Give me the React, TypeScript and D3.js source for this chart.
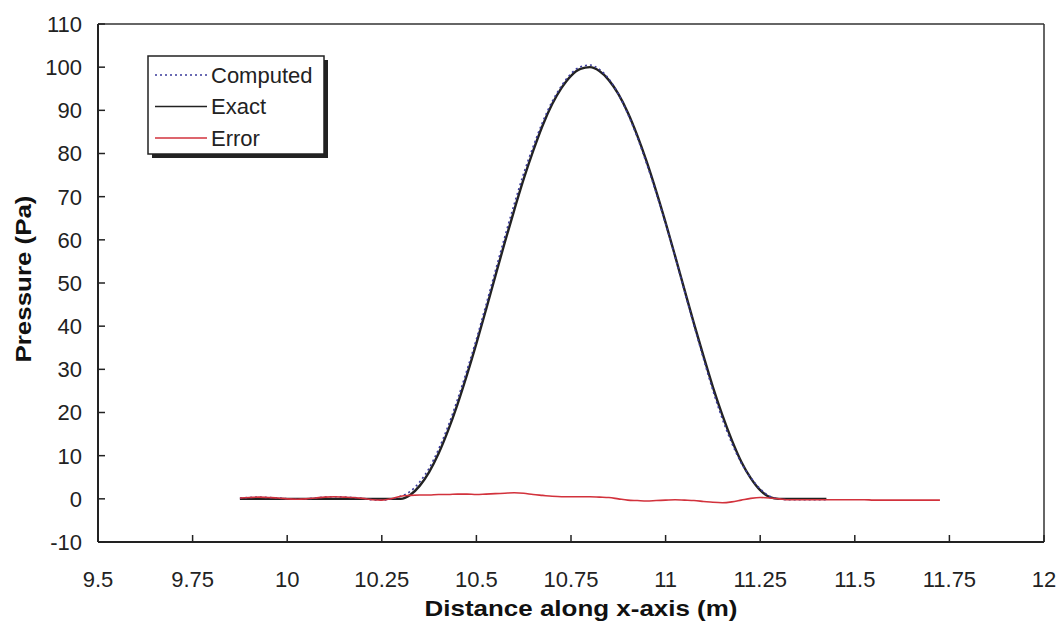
import React from "react";
import * as d3 from "d3";

const xValues = [
  9.875, 9.9, 9.925, 9.95, 9.975, 10.0, 10.025, 10.05, 10.075, 10.1,
  10.125, 10.15, 10.175, 10.2, 10.225, 10.25, 10.275, 10.3, 10.325, 10.35,
  10.375, 10.4, 10.425, 10.45, 10.475, 10.5, 10.525, 10.55, 10.575, 10.6,
  10.625, 10.65, 10.675, 10.7, 10.725, 10.75, 10.775, 10.8, 10.825, 10.85,
  10.875, 10.9, 10.925, 10.95, 10.975, 11.0, 11.025, 11.05, 11.075, 11.1,
  11.125, 11.15, 11.175, 11.2, 11.225, 11.25, 11.275, 11.3, 11.325, 11.35,
  11.375, 11.4, 11.425, 11.45, 11.475, 11.5, 11.525, 11.55, 11.575, 11.6,
  11.625, 11.65, 11.675, 11.7, 11.725,
];

const exactValues = [
  0, 0, 0, 0, 0, 0, 0, 0, 0, 0,
  0, 0, 0, 0, 0, 0, 0, 0, 0.9, 3.0,
  6.2, 10.5, 15.8, 21.9, 28.7, 36.0, 43.7, 51.6, 59.4, 66.9,
  74.1, 80.6, 86.5, 91.4, 95.2, 98.0, 99.6, 100.0, 99.1, 97.0,
  93.8, 89.5, 84.2, 78.1, 71.3, 64.0, 56.3, 48.4, 40.6, 33.1,
  25.9, 19.4, 13.6, 8.6, 4.8, 2.0, 0.4, 0, 0, 0,
  0, 0, 0,
];

const computedValues = [
  0.2, 0.3, 0.4, 0.3, 0.2, 0.0, -0.1, 0.0, 0.2, 0.4,
  0.5, 0.4, 0.3, 0.1, -0.2, -0.3, 0.0, 0.6, 1.7, 3.9,
  7.1, 11.5, 16.8, 23.0, 29.8, 37.0, 44.8, 52.8, 60.7, 68.3,
  75.4, 81.6, 87.3, 92.0, 95.7, 98.5, 100.1, 100.5, 99.5, 97.3,
  93.8, 89.2, 83.8, 77.6, 70.9, 63.7, 56.1, 48.1, 40.2, 32.5,
  25.1, 18.5, 12.9, 8.3, 4.9, 2.3, 0.6, 0.0, -0.2, -0.2,
  -0.2, -0.2, -0.2,
];

const errorValues = [
  0.2, 0.3, 0.4, 0.3, 0.2, 0.0, -0.1, 0.0, 0.2, 0.4,
  0.5, 0.4, 0.3, 0.1, -0.2, -0.3, 0.0, 0.6, 0.8, 0.9,
  0.9, 1.0, 1.0, 1.1, 1.1, 1.0, 1.1, 1.2, 1.3, 1.4,
  1.3, 1.0, 0.8, 0.6, 0.5, 0.5, 0.5, 0.5, 0.4, 0.3,
  0.0, -0.3, -0.4, -0.5, -0.4, -0.3, -0.2, -0.3, -0.4, -0.6,
  -0.8, -0.9, -0.7, -0.3, 0.1, 0.3, 0.2, 0.0, -0.2, -0.2,
  -0.2, -0.2, -0.2, -0.2, -0.2, -0.2, -0.2, -0.3, -0.3, -0.3,
  -0.3, -0.3, -0.3, -0.3, -0.3,
];

const xTicks = [9.5, 9.75, 10, 10.25, 10.5, 10.75, 11, 11.25, 11.5, 11.75, 12];
const yTicks = [-10, 0, 10, 20, 30, 40, 50, 60, 70, 80, 90, 100, 110];

const seriesNames = ["Computed", "Exact", "Error"];

export default function App() {
  const W = 1063;
  const H = 621;
  const left = 98;
  const right = 1044;
  const top = 24;
  const bottom = 542;
  const x = d3.scaleLinear().domain([9.5, 12]).range([left, right]);
  const y = d3.scaleLinear().domain([-10, 110]).range([bottom, top]);

  const mk = (vals: number[]) =>
    d3
      .line<number>()
      .x((_, i) => x(xValues[i]))
      .y((v) => y(v))
      .curve(d3.curveMonotoneX)(vals) || "";

  const font = "Arial, 'Liberation Sans', sans-serif";

  return (
    <svg
      width={W}
      height={H}
      style={{ position: "absolute", left: 0, top: 0, background: "#fff" }}
    >
      <rect x={0} y={0} width={W} height={H} fill="#fff" />
      {/* series */}
      <path d={mk(exactValues)} fill="none" stroke="#222" strokeWidth={2.4} />
      <path
        d={mk(computedValues)}
        fill="none"
        stroke="#3a3a9a"
        strokeWidth={1.6}
        strokeDasharray="2 3"
      />
      <path d={mk(errorValues)} fill="none" stroke="#d2323c" strokeWidth={1.6} />

      {/* frame */}
      <line x1={left} x2={right} y1={top} y2={top} stroke="#333" strokeWidth={1.5} />
      <line x1={right} x2={right} y1={top} y2={bottom} stroke="#333" strokeWidth={1.5} />
      <line x1={left} x2={right} y1={bottom} y2={bottom} stroke="#222" strokeWidth={2} />
      <line x1={left} x2={left} y1={top} y2={bottom} stroke="#222" strokeWidth={2} />

      {/* y ticks */}
      {yTicks.map((t) => (
        <g key={"y" + t}>
          <line x1={left} x2={left + 7} y1={y(t)} y2={y(t)} stroke="#222" strokeWidth={1.5} />
          <text
            x={left - 16}
            y={y(t)}
            dy="0.36em"
            textAnchor="end"
            fontFamily={font}
            fontSize={22}
            fill="#222"
          >
            {t}
          </text>
        </g>
      ))}

      {/* x ticks */}
      {xTicks.map((t) => (
        <g key={"x" + t}>
          <line x1={x(t)} x2={x(t)} y1={bottom} y2={bottom - 7} stroke="#222" strokeWidth={1.5} />
          <text
            x={x(t)}
            y={bottom + 45}
            textAnchor="middle"
            fontFamily={font}
            fontSize={22}
            fill="#222"
          >
            {t}
          </text>
        </g>
      ))}

      {/* axis titles */}
      <text
        x={581}
        y={616}
        textAnchor="middle"
        fontFamily={font}
        fontSize={22.5}
        fontWeight="bold"
        fill="#111"
        textLength={313}
        lengthAdjust="spacingAndGlyphs"
      >
        Distance along x-axis (m)
      </text>
      <text
        transform={`translate(31, 279) rotate(-90)`}
        textAnchor="middle"
        fontFamily={font}
        fontSize={22.5}
        fontWeight="bold"
        fill="#111"
        textLength={167}
        lengthAdjust="spacingAndGlyphs"
      >
        Pressure (Pa)
      </text>

      {/* legend */}
      <rect x={152} y={60} width={176} height={98} fill="#222" />
      <rect x={148} y={56} width={176} height={98} fill="#fff" stroke="#222" strokeWidth={1.5} />
      {seriesNames.map((name, i) => {
        const ly = 75 + i * 31.5;
        const stroke = i === 0 ? "#3a3a9a" : i === 1 ? "#222" : "#d2323c";
        return (
          <g key={name}>
            <line
              x1={155}
              x2={207}
              y1={ly}
              y2={ly}
              stroke={stroke}
              strokeWidth={1.6}
              strokeDasharray={i === 0 ? "2 3" : undefined}
            />
            <text
              x={211}
              y={ly}
              dy="0.36em"
              fontFamily={font}
              fontSize={22}
              fill="#222"
            >
              {name}
            </text>
          </g>
        );
      })}
    </svg>
  );
}
